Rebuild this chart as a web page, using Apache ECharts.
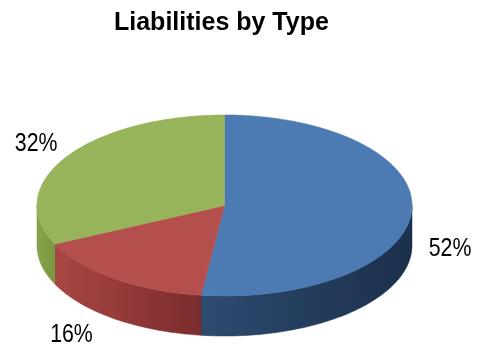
<!DOCTYPE html>
<html><head><meta charset="utf-8">
<script src="https://cdn.jsdelivr.net/npm/echarts@6/dist/echarts.min.js"></script>
<style>html,body{margin:0;padding:0;background:#fff}#c{width:478px;height:345px}</style>
</head><body><div id="c"></div>
<script>
const chartTitle = 'Liabilities by Type';
const categories = ['Type 1', 'Type 2', 'Type 3'];
const values = [52, 16, 32];
const topColors = ['#4C7BB4', '#B54F4D', '#97B45A'];
const sideColors = [['#2E4B70', '#1B304B'], ['#A94644', '#7A2C2C'], ['#86A449', '#7A963F']];

const total = values.reduce((a, b) => a + b, 0);
const starts = [];
let acc = 0;
values.forEach(v => { starts.push(acc / total * 360); acc += v; });

const CX = 224.5, CY = 205.5, RX = 187.5, RY = 90.5, DEPTH = 40;
function pt(deg, dy) {
  const r = deg * Math.PI / 180;
  return [CX + RX * Math.sin(r), CY - RY * Math.cos(r) + (dy || 0)];
}

function renderItem(params, api) {
  const i = params.dataIndex;
  const v = api.value(0);
  const a0 = starts[i], a1 = a0 + v / total * 360;
  const children = [];
  const s0 = Math.max(a0, 90), s1 = Math.min(a1, 270);
  if (s1 > s0) {
    const top = [], bot = [];
    const n = Math.max(2, Math.ceil(s1 - s0));
    for (let k = 0; k <= n; k++) {
      const d = s0 + (s1 - s0) * k / n;
      top.push(pt(d)); bot.push(pt(d, DEPTH));
    }
    const poly = top.concat(bot.reverse());
    children.push({
      type: 'polygon', shape: { points: poly }, z2: 1,
      style: {
        fill: new echarts.graphic.LinearGradient(0, 0, 1, 0, [
          { offset: 0, color: sideColors[i][0] }, { offset: 1, color: sideColors[i][1] }]),
        stroke: sideColors[i][1], lineWidth: 0.5
      }
    });
  }
  const face = [[CX, CY]];
  const n2 = Math.max(2, Math.ceil(a1 - a0));
  for (let k = 0; k <= n2; k++) face.push(pt(a0 + (a1 - a0) * k / n2));
  children.push({ type: 'polygon', shape: { points: face }, z2: 2,
    style: { fill: topColors[i], stroke: topColors[i], lineWidth: 0.6 } });
  const mid = (a0 + a1) / 2, r = mid * Math.PI / 180;
  const s = Math.sin(r), c = Math.cos(r);
  let lx = CX + RX * 1.19 * s;
  let ly = CY - RY * 1.27 * c;
  if (c < 0) { ly += DEPTH * 0.9; lx += s * (-c) * 46; }
  children.push({ type: 'text', z2: 3, x: lx, y: ly, scaleX: 0.82,
    style: { text: Math.round(v / total * 100) + '%', x: 0, y: 0, align: 'center', verticalAlign: 'middle',
      fill: '#000', font: "26px 'Liberation Sans', Arial, sans-serif" } });
  return { type: 'group', children };
}

const chart = echarts.init(document.getElementById('c'), null, { renderer: 'canvas' });
chart.setOption({
  animation: false,
  backgroundColor: '#fff',
  title: {
    text: chartTitle, left: 109, top: 6,
    textStyle: { fontSize: 25, fontWeight: 'bold', color: '#000', fontFamily: "'Liberation Sans', Arial, sans-serif" }
  },
  series: [{
    type: 'custom', coordinateSystem: 'none', renderItem,
    data: values.map((v, i) => ({ name: categories[i], value: v }))
  }]
});
</script></body></html>
